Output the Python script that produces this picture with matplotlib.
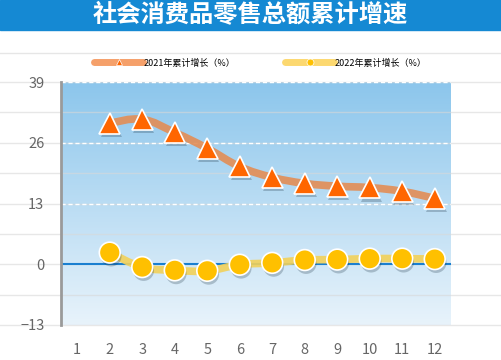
import numpy as np
import matplotlib
matplotlib.use('Agg')
import matplotlib.pyplot as plt
from matplotlib.path import Path
from matplotlib.patches import PathPatch, Rectangle
from matplotlib.lines import Line2D
import matplotlib.patheffects as pe
import matplotlib.transforms as mtrans

plt.rcParams['font.family'] = ['Noto Sans CJK SC', 'DejaVu Sans']

months = [1, 2, 3, 4, 5, 6, 7, 8, 9, 10, 11, 12]
x_data = [2, 3, 4, 5, 6, 7, 8, 9, 10, 11, 12]
growth_2021 = [30.2, 31.0, 28.2, 24.8, 20.9, 18.6, 17.3, 16.7, 16.4, 15.6, 14.1]
growth_2022 = [2.5, -0.6, -1.3, -1.4, -0.1, 0.3, 0.9, 1.0, 1.2, 1.2, 1.1]
yticks = [-13, 0, 13, 26, 39]
title = '社会消费品零售总额累计增速'
label_2021 = '2021年累计增长（%）'
label_2022 = '2022年累计增长（%）'


def smooth_path(xs, ys, t=0.2):
    # bezier segments through the points (catmull-rom style handles)
    xs = np.asarray(xs, float)
    ys = np.asarray(ys, float)
    n = len(xs)
    verts = [(xs[0], ys[0])]
    codes = [Path.MOVETO]
    for i in range(n - 1):
        x0, y0 = xs[max(i - 1, 0)], ys[max(i - 1, 0)]
        x1, y1 = xs[i], ys[i]
        x2, y2 = xs[i + 1], ys[i + 1]
        x3, y3 = xs[min(i + 2, n - 1)], ys[min(i + 2, n - 1)]
        c1 = (x1 + (x2 - x0) * t, y1 + (y2 - y0) * t)
        c2 = (x2 - (x3 - x1) * t, y2 - (y3 - y1) * t)
        verts += [c1, c2, (x2, y2)]
        codes += [Path.CURVE4] * 3
    return Path(verts, codes)


fig = plt.figure(figsize=(5.01, 3.6), dpi=100)
ax = fig.add_axes([61 / 501, 1 - 325 / 360, 390 / 501, 243 / 360])
ax.set_xlim(0.5, 12.5)
ax.set_ylim(-13, 39)

# title bar
fig.patches.append(Rectangle((0, 1 - 30 / 360), 1, 30 / 360, transform=fig.transFigure,
                             color='#1589d3', zorder=0))
fig.text(0.5, 1 - 15 / 360, title, color='white', fontsize=17.5, fontweight='bold',
         ha='center', va='center')
fig.add_artist(Line2D([0, 1], [1 - 53 / 360] * 2, transform=fig.transFigure,
                      color='#e6e6e6', lw=1))

# gradient background
grad = np.linspace(0, 1, 256).reshape(-1, 1)
cmap = matplotlib.colors.LinearSegmentedColormap.from_list('bg', ['#e8f3fb', '#8cc6ec'])
ax.imshow(grad, aspect='auto', cmap=cmap, origin='lower',
          extent=[0.5, 12.5, -13, 39], zorder=0)

# grid lines across full figure width
tr = mtrans.blended_transform_factory(fig.transFigure, ax.transData)
for v in np.arange(-13, 39.1, 6.5):
    ax.plot([0, 1], [v, v], transform=tr, color='#d8d8d8', lw=1, alpha=0.6,
            clip_on=False, zorder=0.5)
for v in [13, 26, 39]:
    ax.axhline(v, color='white', lw=1, ls=(0, (3, 2)), zorder=1)
ax.axhline(0, color='#1a7fd0', lw=1.5, zorder=1.5)

shadow = [pe.SimplePatchShadow(offset=(1, -2.5), shadow_rgbFace='#1a3040', alpha=0.25), pe.Normal()]

ax.add_patch(PathPatch(smooth_path(x_data, growth_2021), fill=False, ec='#e38d55',
                       lw=5.5, alpha=0.9, capstyle='round', zorder=2))
ax.add_patch(PathPatch(smooth_path(x_data, growth_2022), fill=False, ec='#f2d15a',
                       lw=5.5, alpha=0.9, capstyle='round', zorder=2))

ax.plot(x_data, growth_2021, ls='none', marker='^', ms=15, mfc='#ff6600', mec='white',
        mew=1.2, zorder=3, path_effects=shadow)
ax.plot(x_data, growth_2022, ls='none', marker='o', ms=15, mfc='#ffc000', mec='white',
        mew=1.2, zorder=3, path_effects=shadow)

# legend
h1 = Line2D([], [], color='#f5a06a', lw=5, solid_capstyle='round', marker='^', ms=4,
            mfc='#ff6600', mec='white', mew=0.5)
h2 = Line2D([], [], color='#fcd870', lw=5, solid_capstyle='round', marker='o', ms=5,
            mfc='#ffc000', mec='white', mew=0.5)
fig.legend([h1, h2], [label_2021, label_2022], loc='center', ncol=2,
           bbox_to_anchor=(0.52, 1 - 63 / 360), frameon=False, fontsize=6.5,
           handlelength=5.4, handletextpad=0.1, columnspacing=5.5, numpoints=1)

# axes styling
for s in ['top', 'right', 'bottom']:
    ax.spines[s].set_visible(False)
ax.spines['left'].set_color('#9a9a9a')
ax.spines['left'].set_linewidth(2)
ax.set_xticks(months)
ax.set_yticks(yticks)
ax.set_yticklabels(['\u221213', '0', '13', '26', '39'])
ax.tick_params(axis='both', length=0, colors='#666666', labelsize=10.5)
ax.tick_params(axis='y', pad=12)
ax.tick_params(axis='x', pad=13)

fig.savefig('out.png', dpi=100)
